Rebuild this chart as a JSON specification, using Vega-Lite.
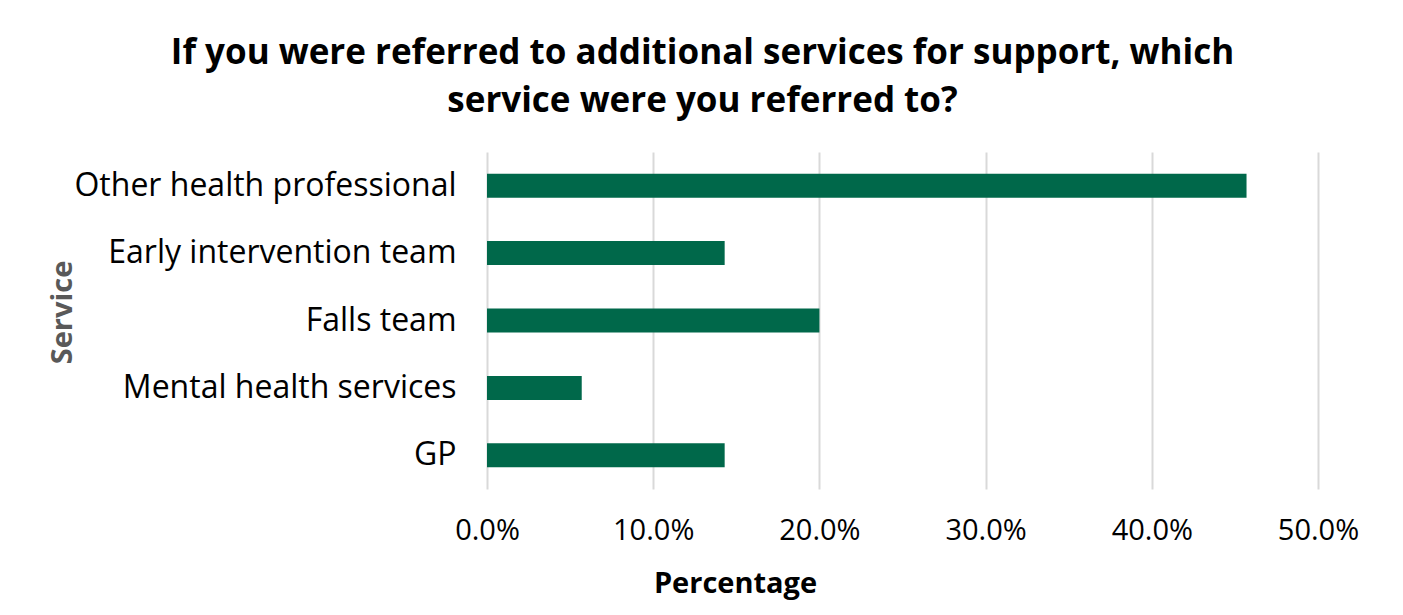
{
  "$schema": "https://vega.github.io/schema/vega-lite/v6.json",
  "autosize": {"type": "none"},
  "width": 831,
  "height": 337,
  "padding": {"left": 487, "top": 152, "right": 85, "bottom": 126},
  "background": "white",
  "title": {
    "text": ["If you were referred to additional services for support, which", "service were you referred to?"],
    "anchor": "middle",
    "frame": "group",
    "dx": -200,
    "offset": 33,
    "font": "Open Sans",
    "fontSize": 35,
    "fontWeight": "bold",
    "lineHeight": 48,
    "color": "black"
  },
  "data": {
    "values": [
      {"service": "Other health professional", "pct": 0.457},
      {"service": "Early intervention team", "pct": 0.143},
      {"service": "Falls team", "pct": 0.2},
      {"service": "Mental health services", "pct": 0.057},
      {"service": "GP", "pct": 0.143}
    ]
  },
  "mark": {"type": "bar", "color": "#00684a", "size": 24},
  "encoding": {
    "y": {
      "field": "service",
      "type": "nominal",
      "sort": null,
      "title": "Service",
      "axis": {
        "domain": false,
        "ticks": false,
        "labelFont": "Open Sans",
        "labelFontSize": 32,
        "labelColor": "black",
        "labelPadding": 31,
        "labelLimit": 480,
        "titleFont": "Open Sans",
        "titleFontSize": 29,
        "titleFontWeight": "bold",
        "titleColor": "#595959",
        "titleX": -425,
        "titleY": 160,
        "titleAngle": -90,
        "titleAlign": "center",
        "titleBaseline": "middle"
      }
    },
    "x": {
      "field": "pct",
      "type": "quantitative",
      "scale": {"domain": [0, 0.5], "nice": false},
      "title": "Percentage",
      "axis": {
        "format": ".1%",
        "values": [0, 0.1, 0.2, 0.3, 0.4, 0.5],
        "domain": false,
        "ticks": false,
        "grid": true,
        "gridColor": "#d9d9d9",
        "gridWidth": 2,
        "labelFont": "Open Sans",
        "labelFontSize": 29,
        "labelColor": "black",
        "labelPadding": 27,
        "labelFlush": false,
        "labelOverlap": false,
        "titleFont": "Open Sans",
        "titleFontSize": 29,
        "titleFontWeight": "bold",
        "titleColor": "black",
        "titleX": 248,
        "titleY": 94,
        "titleAlign": "center",
        "titleBaseline": "middle"
      }
    }
  },
  "config": {"view": {"stroke": null}}
}
